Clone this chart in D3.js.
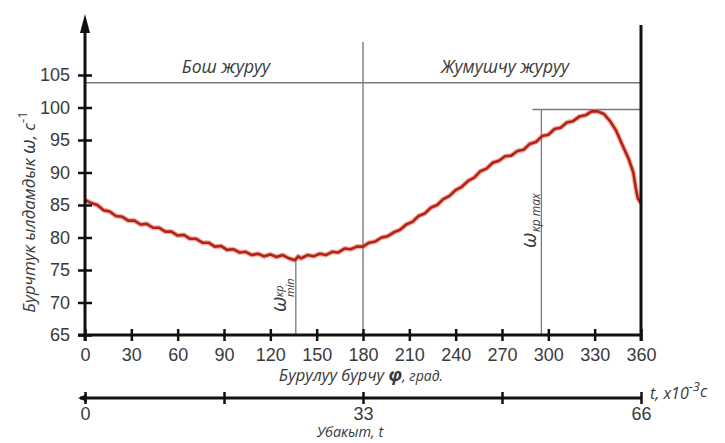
<!DOCTYPE html>
<html>
<head>
<meta charset="utf-8">
<script src="https://cdn.jsdelivr.net/npm/d3@7"></script>
<style>
  body { margin: 0; background: #fff; }
  svg { display: block; font-family: "Open Sans", sans-serif; }
  .tick text { fill: #3a3a3a; font-size: 18px; }
  .lbl { fill: #3a3a3a; font-style: italic; }
</style>
</head>
<body>
<svg id="chart"></svg>
<script>
// angle of rotation (degrees) and angular speed omega (1/s)
var angles = [0, 4, 8, 12, 16, 20, 24, 28, 32, 36, 40, 44, 48, 52, 56, 60, 64, 68, 72, 76,
  80, 84, 88, 92, 96, 100, 104, 108, 112, 116, 120, 124, 128, 132, 136, 138, 140, 144, 148, 152,
  156, 160, 164, 168, 172, 176, 180, 184, 188, 192, 196, 200, 204, 208, 212, 216, 220, 224, 228, 232,
  236, 240, 244, 248, 252, 256, 260, 264, 268, 272, 276, 280, 284, 288, 292, 296, 300, 304, 308, 312,
  316, 320, 324, 328, 332, 336, 340, 344, 348, 352, 355, 357, 358, 360];
var omega = [85.8, 85.3, 85.0, 84.2, 84.0, 83.3, 83.2, 82.6, 82.6, 82.0, 82.1, 81.5, 81.5, 80.9, 80.9, 80.3, 80.4, 79.8, 79.8, 79.2,
  79.2, 78.6, 78.7, 78.1, 78.2, 77.7, 77.8, 77.3, 77.5, 77.1, 77.4, 77.0, 77.3, 76.8, 76.5, 77.1, 76.8, 77.3, 77.1, 77.5,
  77.3, 77.8, 77.7, 78.3, 78.2, 78.6, 78.6, 79.2, 79.4, 80.0, 80.2, 80.8, 81.2, 82.0, 82.4, 83.3, 83.7, 84.6, 85.0, 85.9,
  86.4, 87.3, 87.8, 88.7, 89.2, 90.2, 90.6, 91.5, 91.8, 92.5, 92.6, 93.3, 93.5, 94.4, 94.7, 95.6, 95.8, 96.7, 96.9, 97.7,
  97.9, 98.6, 98.8, 99.4, 99.4, 99.0, 97.9, 96.4, 94.2, 92.1, 90.0, 87.1, 86.0, 85.3];

var xTicks = [0, 30, 60, 90, 120, 150, 180, 210, 240, 270, 300, 330, 360];
var yTicks = [65, 70, 75, 80, 85, 90, 95, 100, 105];
var tTicks = [0, 16.5, 33, 49.5, 66];
var tLabels = [0, 33, 66];

var phaseLine = 103.8;   // level of the phase band
var phaseSplit = 180;    // idle / working boundary
var minAngle = 136.5, minOmega = 76.3;
var maxAngle = 295.5, maxOmega = 99.7;

var width = 725, height = 443;
var svg = d3.select("#chart").attr("width", width).attr("height", height);

var x = d3.scaleLinear().domain([0, 360]).range([85, 641]);
var y = d3.scaleLinear().domain([65, 105]).range([335, 75]);
var t = d3.scaleLinear().domain([0, 66]).range([85, 641]);

var grey = "#7a7a7a";

// phase band line and separators
svg.append("line")
  .attr("x1", x(0)).attr("x2", x(360))
  .attr("y1", y(phaseLine)).attr("y2", y(phaseLine))
  .attr("stroke", grey).attr("stroke-width", 1.6);
svg.append("line")
  .attr("x1", x(phaseSplit)).attr("x2", x(phaseSplit))
  .attr("y1", 42).attr("y2", y(65))
  .attr("stroke", grey).attr("stroke-width", 1.4);

// omega min / max guides
svg.append("line")
  .attr("x1", x(minAngle)).attr("x2", x(minAngle))
  .attr("y1", y(minOmega)).attr("y2", y(65))
  .attr("stroke", grey).attr("stroke-width", 1.3);
svg.append("line")
  .attr("x1", x(maxAngle)).attr("x2", x(maxAngle))
  .attr("y1", y(maxOmega)).attr("y2", y(65))
  .attr("stroke", grey).attr("stroke-width", 1.3);
svg.append("line")
  .attr("x1", x(maxAngle) - 9).attr("x2", x(360))
  .attr("y1", y(maxOmega)).attr("y2", y(maxOmega))
  .attr("stroke", grey).attr("stroke-width", 1.6);

// curve
var line = d3.line()
  .x(function (d, i) { return x(angles[i]); })
  .y(function (d) { return y(d); });

svg.append("path").datum(omega)
  .attr("d", line).attr("fill", "none")
  .attr("stroke", "#e8704f").attr("stroke-opacity", 0.55)
  .attr("stroke-width", 5).attr("stroke-linejoin", "round");
svg.append("path").datum(omega)
  .attr("d", line).attr("fill", "none")
  .attr("stroke", "#b1221a").attr("stroke-width", 2.6)
  .attr("stroke-linejoin", "round");

// axes
var yAxis = d3.axisLeft(y).tickValues(yTicks).tickSize(7).tickPadding(8);
var gy = svg.append("g").attr("transform", "translate(" + x(0) + ",0)").call(yAxis);
gy.select(".domain").remove();
gy.selectAll(".tick line").attr("x1", 7).attr("stroke", "#111").attr("stroke-width", 2.5);

var xAxis = d3.axisBottom(x).tickValues(xTicks).tickSize(6).tickPadding(7);
var gx = svg.append("g").attr("transform", "translate(0," + y(65) + ")").call(xAxis);
gx.select(".domain").remove();
gx.selectAll(".tick line").attr("y1", -6).attr("stroke", "#111").attr("stroke-width", 2.5);

svg.append("line")
  .attr("x1", x(0) - 7).attr("x2", x(360))
  .attr("y1", y(65)).attr("y2", y(65))
  .attr("stroke", "#111").attr("stroke-width", 3);
svg.append("line")
  .attr("x1", x(0)).attr("x2", x(0))
  .attr("y1", y(65) + 6).attr("y2", 28)
  .attr("stroke", "#111").attr("stroke-width", 3);
svg.append("path")
  .attr("d", "M" + x(0) + ",14 L" + (x(0) - 5) + ",33 L" + (x(0) + 5) + ",33 Z")
  .attr("fill", "#111");
svg.append("line")
  .attr("x1", x(360)).attr("x2", x(360))
  .attr("y1", 25).attr("y2", y(65) + 6)
  .attr("stroke", "#111").attr("stroke-width", 3);

// time axis
var ty = 398;
var tAxis = d3.axisBottom(t).tickValues(tTicks).tickSize(6).tickPadding(3)
  .tickFormat(function (d) { return tLabels.indexOf(d) >= 0 ? d : ""; });
var gt = svg.append("g").attr("transform", "translate(0," + ty + ")").call(tAxis);
gt.select(".domain").remove();
gt.selectAll(".tick line").attr("y1", -6).attr("stroke", "#111").attr("stroke-width", 2.5);
svg.append("line")
  .attr("x1", t(0) - 5).attr("x2", t(66))
  .attr("y1", ty).attr("y2", ty)
  .attr("stroke", "#111").attr("stroke-width", 3);
svg.append("path")
  .attr("d", "M" + (t(0) - 7) + "," + ty + " L" + (t(0) + 2) + "," + (ty - 4) + " L" + (t(0) + 2) + "," + (ty + 4) + " Z")
  .attr("fill", "#111");

// labels
svg.append("text").attr("class", "lbl")
  .attr("x", (x(0) + x(phaseSplit)) / 2 + 2).attr("y", 73)
  .attr("text-anchor", "middle").attr("font-size", 17.5)
  .text("Бош журуу");
svg.append("text").attr("class", "lbl")
  .attr("x", (x(phaseSplit) + x(360)) / 2 + 3).attr("y", 73)
  .attr("text-anchor", "middle").attr("font-size", 17.5)
  .text("Жумушчу журуу");

var xl = svg.append("text").attr("class", "lbl")
  .attr("x", x(180) - 2).attr("y", 381)
  .attr("text-anchor", "middle").attr("font-size", 16.5);
xl.append("tspan").text("Бурулуу бурчу ");
xl.append("tspan").attr("font-size", 18).attr("font-weight", "bold").text("φ");
xl.append("tspan").attr("font-size", 14).text(", град.");

var yl = svg.append("text").attr("class", "lbl")
  .attr("transform", "translate(35," + 212 + ") rotate(-90)")
  .attr("text-anchor", "middle").attr("font-size", 17);
yl.append("tspan").text("Бурчтук ылдамдык ");
yl.append("tspan").attr("font-size", 20).text("ω");
yl.append("tspan").text(", с");
yl.append("tspan").attr("dy", -8).attr("font-size", 13).attr("font-style", "normal").text("-1");

var tl = svg.append("text").attr("class", "lbl")
  .attr("x", 650).attr("y", 399).attr("font-size", 16);
tl.append("tspan").text("t, x10");
tl.append("tspan").attr("dy", -8).attr("font-size", 13).text("-3");
tl.append("tspan").attr("dy", 6).text("c");

svg.append("text").attr("class", "lbl")
  .attr("x", 350).attr("y", 437)
  .attr("text-anchor", "middle").attr("font-size", 14.5)
  .text("Убакыт, t");

// omega min label
var gmin = svg.append("g")
  .attr("transform", "translate(" + (x(minAngle) - 10) + ",312) rotate(-90)");
gmin.append("text").attr("class", "lbl").attr("font-size", 21).text("ω");
gmin.append("text").attr("class", "lbl").attr("x", 15).attr("y", -3)
  .attr("font-size", 11).text("кр");
gmin.append("text").attr("class", "lbl").attr("x", 15).attr("y", 8)
  .attr("font-size", 11).text("min");

// omega max label
var gmax = svg.append("g")
  .attr("transform", "translate(" + (x(maxAngle) - 5) + ",248) rotate(-90)");
gmax.append("text").attr("class", "lbl").attr("font-size", 21).text("ω");
gmax.append("text").attr("class", "lbl").attr("x", 16).attr("y", 4)
  .attr("font-size", 12).text("кр max");
</script>
</body>
</html>
